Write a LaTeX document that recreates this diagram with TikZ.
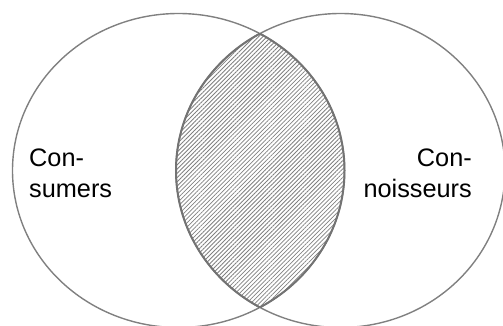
\documentclass[tikz,border=0pt]{standalone}
\usepackage{fontspec}
\setmainfont{Liberation Sans}
\usetikzlibrary{patterns.meta}

\begin{document}
\begin{tikzpicture}[
    x=1pt, y=1pt,
    set/.style={draw=black!50, line width=1.4pt},
    lensedge/.style={draw=black!55, line width=2pt},
    hatch/.style={pattern={Lines[angle=45, distance=3pt, line width=0.8pt]}, pattern color=black!50},
    lbl/.style={font=\fontsize{25.3}{31}\selectfont, inner sep=0pt},
]
\useasboundingbox (0,0) rectangle (503,325);
\clip (0,0) rectangle (503,325);

% the two sets
\coordinate (cl) at (178.5,154.5);
\coordinate (cr) at (340.5,154.5);
\def\setl{(cl) ellipse [x radius=166, y radius=157]}
\def\setr{(cr) ellipse [x radius=164.5, y radius=157]}

% overlap, hatched
\begin{scope}
  \clip \setl;
  \fill[hatch] \setr;
\end{scope}

\draw[set] \setl;
\draw[set] \setr;

% border of the overlap
\begin{scope}
  \clip \setl;
  \draw[lensedge] \setr;
\end{scope}
\begin{scope}
  \clip \setr;
  \draw[lensedge] \setl;
\end{scope}

% labels
\node[lbl, align=left, anchor=north west] (consumers) at (29,176) {Con-\\sumers};
\node[lbl, align=right, anchor=north east] (connoisseurs) at (472,176) {Con-\\noisseurs};

\end{tikzpicture}
\end{document}
